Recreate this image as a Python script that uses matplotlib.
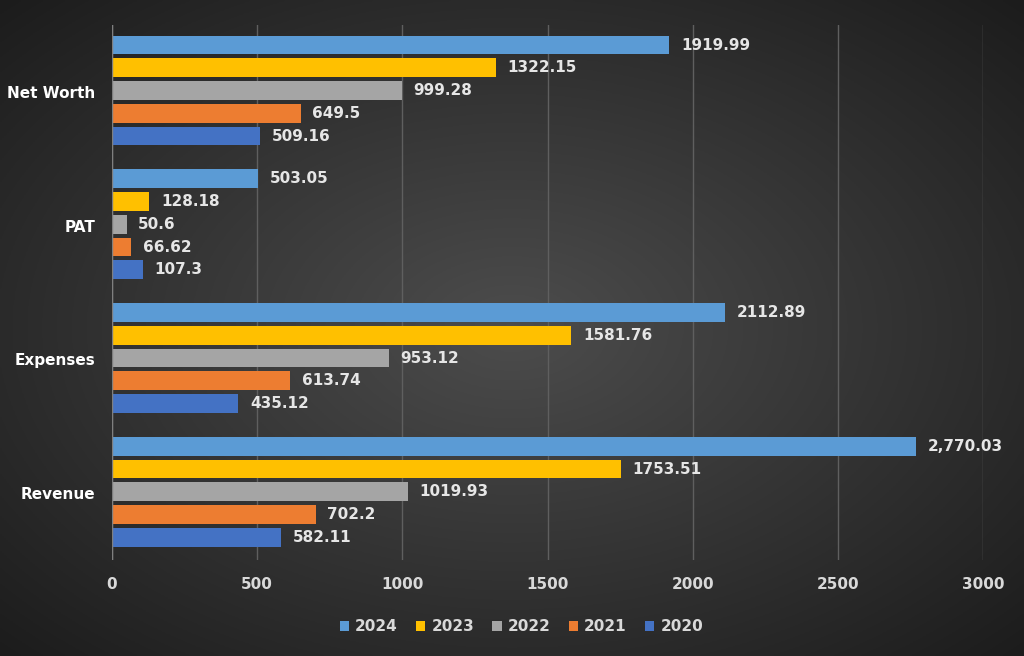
import numpy as np
import matplotlib.pyplot as plt

categories = ['Revenue', 'Expenses', 'PAT', 'Net Worth']
years = ['2024', '2023', '2022', '2021', '2020']
values = {
    '2024': [2770.03, 2112.89, 503.05, 1919.99],
    '2023': [1753.51, 1581.76, 128.18, 1322.15],
    '2022': [1019.93, 953.12, 50.6, 999.28],
    '2021': [702.2, 613.74, 66.62, 649.5],
    '2020': [582.11, 435.12, 107.3, 509.16],
}
labels = {
    '2024': ['2,770.03', '2112.89', '503.05', '1919.99'],
    '2023': ['1753.51', '1581.76', '128.18', '1322.15'],
    '2022': ['1019.93', '953.12', '50.6', '999.28'],
    '2021': ['702.2', '613.74', '66.62', '649.5'],
    '2020': ['582.11', '435.12', '107.3', '509.16'],
}
colors = ['#5B9BD5', '#FFC000', '#A5A5A5', '#ED7D31', '#4472C4']

fig = plt.figure(figsize=(10.24, 6.56), dpi=100)

# radial gradient background
bg = fig.add_axes([0, 0, 1, 1], zorder=-10)
yy, xx = np.mgrid[-1:1:300j, -1:1:470j]
r = np.sqrt(xx**2 + yy**2) / np.sqrt(2)
shade = 0.30 - 0.19 * r
bg.imshow(np.dstack([shade] * 3), aspect='auto', extent=[0, 1, 0, 1])
bg.axis('off')

ax = fig.add_axes([112/1024, 1 - 560/656, 871/1024, 535/656])
ax.set_facecolor('none')

y = np.arange(len(categories))
step = 0.17
h = 0.14
for i, yr in enumerate(years):
    pos = y + (2 - i) * step + 0.01
    ax.barh(pos, values[yr], height=h, color=colors[i], label=yr, zorder=3)
    for p, v, t in zip(pos, values[yr], labels[yr]):
        ax.text(v + 40, p, t, va='center', ha='left', color='#e6e6e6',
                fontsize=11, fontweight='bold')

ax.set_xlim(0, 3000)
ax.set_ylim(-0.5, 3.5)
ax.set_yticks(y)
ax.set_yticklabels(categories, color='white', fontsize=11, fontweight='bold')
ax.set_xticks(range(0, 3001, 500))
ax.set_xticklabels([str(v) for v in range(0, 3001, 500)], color='#d9d9d9',
                   fontsize=11, fontweight='bold')
ax.tick_params(length=0, pad=12)
ax.xaxis.grid(True, color='#5f5f5f', lw=1, zorder=0)
for s in ax.spines.values():
    s.set_visible(False)
ax.axvline(0, color='#7f7f7f', lw=1, zorder=4)

ax.legend(loc='upper center', bbox_to_anchor=(0.47, -0.085), ncol=5, frameon=False,
          labelcolor='#d9d9d9', prop={'size': 11, 'weight': 'bold'},
          handlelength=0.6, handleheight=0.6, columnspacing=1.2, handletextpad=0.4)

fig.savefig('out.png', dpi=100)
